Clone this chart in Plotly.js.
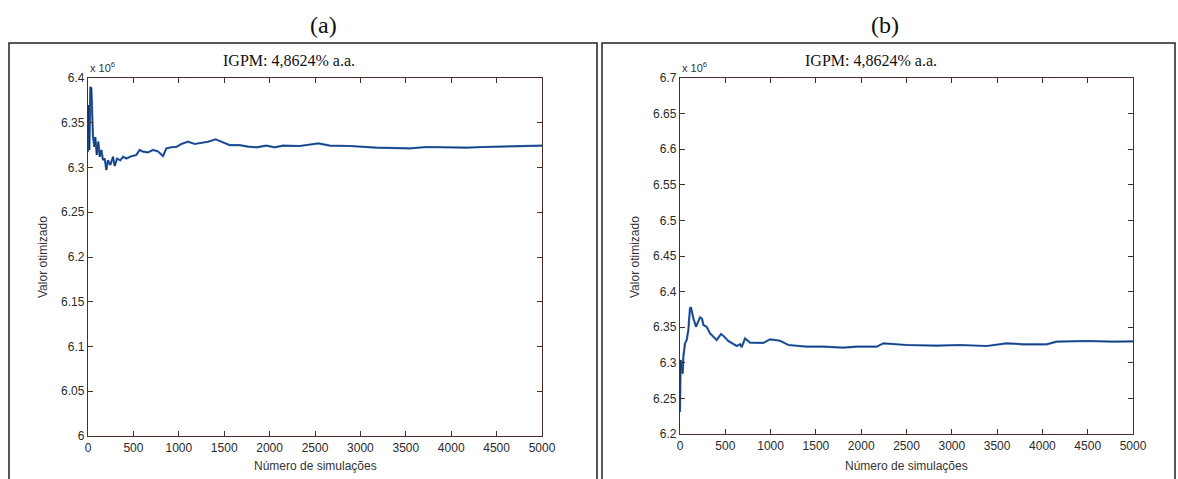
<!DOCTYPE html>
<html>
<head>
<meta charset="utf-8">
<script src="https://cdn.plot.ly/plotly-3.0.1.min.js"></script>
<style>html,body{margin:0;padding:0;background:#fff;}#chart{width:1178px;height:479px;}</style>
</head>
<body>
<div id="chart"></div>
<script>
// Panel (a): number of simulations vs optimized value (x 10^6)
const simsA = [0,7,15,26,37,44,55,70,81,96,114,129,147,165,184,202,220,246,275,294,320,356,386,422,477,532,569,606,661,716,771,826,863,918,973,1028,1101,1175,1248,1322,1406,1469,1560,1670,1762,1854,1964,2056,2148,2331,2537,2665,2885,3179,3362,3546,3730,3987,4171,4354,4611,4905,5000];
const valA  = [6.3177,6.3698,6.3196,6.3900,6.3885,6.3530,6.3344,6.3232,6.3340,6.3140,6.3288,6.3120,6.3196,6.3084,6.3100,6.2972,6.3080,6.3028,6.3120,6.3017,6.3100,6.3080,6.3120,6.3100,6.3125,6.3140,6.3196,6.3177,6.3168,6.3196,6.3180,6.3128,6.3214,6.3226,6.3230,6.3263,6.3288,6.3263,6.3275,6.3288,6.3315,6.3288,6.3250,6.3250,6.3233,6.3226,6.3245,6.3226,6.3245,6.3240,6.3270,6.3244,6.3240,6.3221,6.3214,6.3214,6.3229,6.3221,6.3221,6.3229,6.3237,6.3244,6.3244];
// Panel (b)
const simsB = [0,7,30,37,55,74,92,110,121,147,177,202,221,243,258,294,331,405,453,478,534,626,663,681,718,773,920,994,1104,1196,1398,1582,1803,1950,2171,2245,2502,2833,3090,3385,3605,3789,4047,4157,4488,4783,5000];
const valB  = [6.2313,6.3040,6.2850,6.3086,6.3270,6.3320,6.3460,6.3765,6.3780,6.3625,6.3507,6.3577,6.3639,6.3620,6.3530,6.3507,6.3414,6.3320,6.3404,6.3380,6.3306,6.3236,6.3260,6.3220,6.3344,6.3283,6.3280,6.3330,6.3310,6.3250,6.3227,6.3227,6.3212,6.3227,6.3227,6.3274,6.3250,6.3240,6.3250,6.3236,6.3274,6.3260,6.3260,6.3297,6.3306,6.3297,6.3300];
const xTicks = [0,500,1000,1500,2000,2500,3000,3500,4000,4500,5000];
const yTicksA = [6,6.05,6.1,6.15,6.2,6.25,6.3,6.35,6.4];
const yTicksB = [6.2,6.25,6.3,6.35,6.4,6.45,6.5,6.55,6.6,6.65,6.7];
const titleText = "IGPM: 4,8624% a.a.";
const xTitle = "Número de simulações";
const yTitle = "Valor otimizado";

const W = 1178, H = 479;
const px = v => v / W;
const py = v => 1 - v / H;

const outer = {color: '#2f6fc4', width: 2.2};
const inner = {color: '#1b2f5a', width: 0.9};
const traces = [
  {x: simsA, y: valA, type: 'scatter', mode: 'lines', line: outer, xaxis: 'x', yaxis: 'y', hoverinfo: 'skip'},
  {x: simsA, y: valA, type: 'scatter', mode: 'lines', line: inner, xaxis: 'x', yaxis: 'y', hoverinfo: 'skip'},
  {x: simsB, y: valB, type: 'scatter', mode: 'lines', line: outer, xaxis: 'x2', yaxis: 'y2', hoverinfo: 'skip'},
  {x: simsB, y: valB, type: 'scatter', mode: 'lines', line: inner, xaxis: 'x2', yaxis: 'y2', hoverinfo: 'skip'}
];

const axCommon = {
  showline: true, linecolor: '#4a2f28', linewidth: 1.2, mirror: 'ticks',
  ticks: 'inside', ticklen: 5, tickcolor: '#4a2f28', tickwidth: 1,
  showgrid: false, zeroline: false, fixedrange: true,
  tickfont: {family: 'Liberation Sans, Arial, sans-serif', size: 12, color: '#2a2a2a'}
};

const layout = {
  width: W, height: H,
  margin: {l: 0, r: 0, t: 0, b: 0},
  paper_bgcolor: '#fff', plot_bgcolor: '#fff',
  showlegend: false,
  xaxis: Object.assign({}, axCommon, {domain: [px(88), px(542)], range: [0, 5000], tickvals: xTicks, ticktext: xTicks.map(String), anchor: 'y'}),
  yaxis: Object.assign({}, axCommon, {domain: [py(436), py(78)], range: [6, 6.4], tickvals: yTicksA, ticktext: yTicksA.map(String), anchor: 'x'}),
  xaxis2: Object.assign({}, axCommon, {domain: [px(680), px(1133)], range: [0, 5000], tickvals: xTicks, ticktext: xTicks.map(String), anchor: 'y2'}),
  yaxis2: Object.assign({}, axCommon, {domain: [py(434), py(78)], range: [6.2, 6.7], tickvals: yTicksB, ticktext: yTicksB.map(String), anchor: 'x2'}),
  shapes: [
    {type: 'rect', xref: 'paper', yref: 'paper', x0: px(9), x1: px(597), y0: py(490), y1: py(43), line: {color: '#222', width: 1.5}},
    {type: 'rect', xref: 'paper', yref: 'paper', x0: px(602), x1: px(1175), y0: py(490), y1: py(43), line: {color: '#222', width: 1.5}}
  ],
  annotations: []
};

const serif = 'Liberation Serif, Times New Roman, serif';
const sans = 'Liberation Sans, Arial, sans-serif';
function ann(text, x, y, opts) {
  layout.annotations.push(Object.assign({text: text, x: px(x), y: py(y), xref: 'paper', yref: 'paper', showarrow: false, xanchor: 'center', yanchor: 'middle'}, opts));
}
ann('(a)', 323, 25, {font: {family: serif, size: 24, color: '#111'}});
ann('(b)', 885, 25, {font: {family: serif, size: 24, color: '#111'}});
ann(titleText, 289, 61, {font: {family: serif, size: 16, color: '#111'}});
ann(titleText, 871, 61, {font: {family: serif, size: 16, color: '#111'}});
ann('x 10<sup>6</sup>', 88, 67, {xanchor: 'left', font: {family: sans, size: 11, color: '#333'}});
ann('x 10<sup>6</sup>', 680, 67, {xanchor: 'left', font: {family: sans, size: 11, color: '#333'}});
ann(yTitle, 43, 257, {textangle: -90, font: {family: sans, size: 12, color: '#333'}});
ann(yTitle, 635, 257, {textangle: -90, font: {family: sans, size: 12, color: '#333'}});
ann(xTitle, 315, 466, {font: {family: sans, size: 12, color: '#333'}});
ann(xTitle, 906, 466, {font: {family: sans, size: 12, color: '#333'}});

Plotly.newPlot('chart', traces, layout, {staticPlot: true, displayModeBar: false});
</script>
</body>
</html>
